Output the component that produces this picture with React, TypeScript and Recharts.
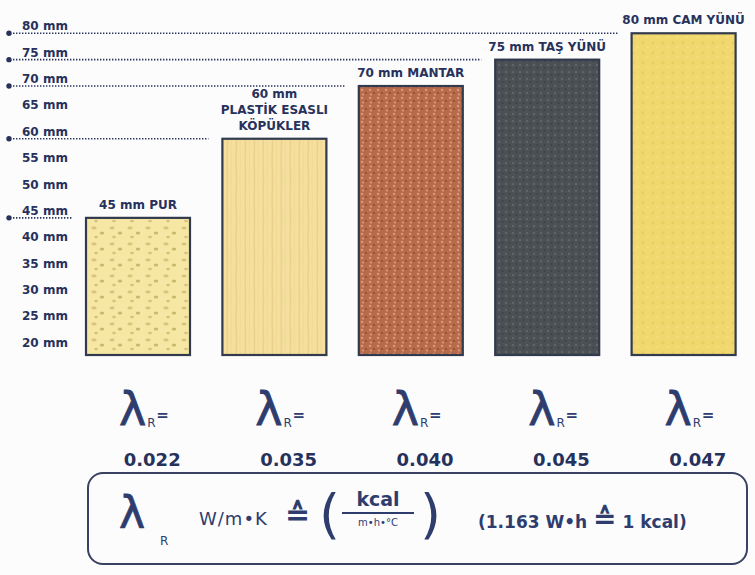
import { BarChart, Bar, XAxis, YAxis, Cell, LabelList } from 'recharts'

const materials = ['PUR', 'PLASTİK ESASLI KÖPÜKLER', 'MANTAR', 'TAŞ YÜNÜ', 'CAM YÜNÜ']
const thicknessMm = [45, 60, 70, 75, 80]
const lambdaR = ['0.022', '0.035', '0.040', '0.045', '0.047']
const barLabels = [
  ['45 mm PUR'],
  ['60 mm', 'PLASTİK ESASLI', 'KÖPÜKLER'],
  ['70 mm MANTAR'],
  ['75 mm TAŞ YÜNÜ'],
  ['80 mm CAM YÜNÜ'],
]
const yTicks = [20, 25, 30, 35, 40, 45, 50, 55, 60, 65, 70, 75, 80]

const data = materials.map((m, i) => ({ material: m, mm: thicknessMm[i], lambda: lambdaR[i], lines: barLabels[i] }))

const ink = '#27325c'
const font = '"DejaVu Sans", Verdana, sans-serif'

const MaterialBar = (props: any) => {
  const { x, y, width, height, index } = props
  return (
    <g>
      <line x1={13} x2={x - 14} y1={y} y2={y} stroke={ink} strokeWidth={1.7} strokeDasharray="1.4 1.6" />
      <circle cx={9} cy={y} r={2.7} fill={ink} />
      <rect x={x} y={y} width={width} height={height} fill={`url(#tex${index})`} stroke="#323a4e" strokeWidth={2.2} />
    </g>
  )
}

const BarTitle = (props: any) => {
  const { x, y, width, index } = props
  const lines = barLabels[index]
  return (
    <text x={x + width / 2} textAnchor="middle" fill={ink} fontFamily={font} fontWeight="bold" fontSize={12}>
      {lines.map((l, i) => (
        <tspan key={i} x={x + width / 2} y={y - 9 - (lines.length - 1 - i) * 16}>
          {l}
        </tspan>
      ))}
    </text>
  )
}

const MmTick = (props: any) => {
  const { y, payload } = props
  return (
    <text x={22} y={y} dy={-3} fill={ink} fontFamily={font} fontWeight="bold" fontSize={12}>
      {payload.value} mm
    </text>
  )
}

const LambdaTick = (props: any) => {
  const { x, y, index } = props
  const cx = x + 14
  return (
    <g fill="#2e3d6e" fontFamily={font}>
      <text x={cx - 6} y={y + 62} textAnchor="end" fontSize={46} stroke="#2e3d6e" strokeWidth={0.8}>λ</text>
      <text x={cx - 5} y={y + 64} fontSize={12}>R</text>
      <text x={cx + 4} y={y + 57} fontSize={15} fontWeight="bold">=</text>
      <text x={cx} y={y + 103} textAnchor="middle" fontSize={18} fontWeight="bold" fill={ink}>
        {lambdaR[index]}
      </text>
    </g>
  )
}

export default function App() {
  return (
    <div style={{ position: 'absolute', left: 0, top: 0, width: 755, height: 575, background: '#fcfcfd', fontFamily: font }}>
      <BarChart width={755} height={485} data={data} margin={{ top: 28, right: 3, bottom: 0, left: 0 }}>
        <defs>
          <pattern id="tex0" width="18" height="16" patternUnits="userSpaceOnUse">
            <rect width="18" height="16" fill="#f6e7a4" />
            <ellipse cx="4" cy="4" rx="2.6" ry="1.4" fill="#d9c47a" />
            <ellipse cx="12" cy="9" rx="2.2" ry="1.5" fill="#cdb76c" />
            <ellipse cx="6" cy="13" rx="1.8" ry="1.2" fill="#d6c07a" />
          </pattern>
          <pattern id="tex1" width="9" height="40" patternUnits="userSpaceOnUse">
            <rect width="9" height="40" fill="#f5df9e" />
            <path d="M2 0 Q3 20 2 40" stroke="#ead08a" strokeWidth="1.4" fill="none" />
            <path d="M6.5 0 Q5.5 20 6.5 40" stroke="#f0d996" strokeWidth="1" fill="none" />
          </pattern>
          <pattern id="tex2" width="8" height="8" patternUnits="userSpaceOnUse">
            <rect width="8" height="8" fill="#b86b4b" />
            <circle cx="2" cy="2" r="1.2" fill="#d99a78" />
            <circle cx="6" cy="5" r="1" fill="#96492f" />
            <circle cx="3" cy="6.5" r="0.9" fill="#dba385" />
          </pattern>
          <pattern id="tex3" width="7" height="7" patternUnits="userSpaceOnUse">
            <rect width="7" height="7" fill="#4b5054" />
            <circle cx="2" cy="2" r="1.2" fill="#5e6468" />
            <circle cx="5.5" cy="5" r="1" fill="#3c4044" />
          </pattern>
          <pattern id="tex4" width="10" height="10" patternUnits="userSpaceOnUse">
            <rect width="10" height="10" fill="#f0d86e" />
            <circle cx="3" cy="3" r="1.4" fill="#e8cd60" />
            <circle cx="7.5" cy="7" r="1.2" fill="#f4df80" />
          </pattern>
        </defs>
        <XAxis dataKey="material" height={130} axisLine={false} tickLine={false} interval={0} tick={<LambdaTick />} />
        <YAxis
          type="number"
          domain={[19, 81]}
          ticks={yTicks}
          width={70}
          axisLine={false}
          tickLine={false}
          tick={<MmTick />}
        />
        <Bar dataKey="mm" barSize={104} shape={<MaterialBar />} isAnimationActive={false}>
          {data.map((d) => (
            <Cell key={d.material} />
          ))}
          <LabelList dataKey="mm" content={<BarTitle />} />
        </Bar>
      </BarChart>

      <div
        style={{
          position: 'absolute',
          left: 87,
          top: 472,
          width: 657,
          height: 89,
          border: '2px solid #3a4264',
          borderRadius: 16,
          color: '#2e3d6e',
          background: '#fcfcfd',
        }}
      >
        <span style={{ position: 'absolute', left: 30, top: 14, fontSize: 44, lineHeight: '50px', WebkitTextStroke: '0.8px #2e3d6e' }}>λ</span>
        <span style={{ position: 'absolute', left: 71, top: 60, fontSize: 12, lineHeight: '14px' }}>R</span>
        <span
          style={{
            position: 'absolute',
            left: 110,
            top: 34,
            fontSize: 18,
            lineHeight: '22px',
            letterSpacing: 1,
            whiteSpace: 'nowrap',
          }}
        >
          W/m•K
        </span>
        <span style={{ position: 'absolute', left: 196, top: 24, fontSize: 30, lineHeight: '34px', fontWeight: 'bold' }}>≙</span>
        <span style={{ position: 'absolute', left: 230, top: 8, fontSize: 54, lineHeight: '66px' }}>(</span>
        <div style={{ position: 'absolute', left: 253, top: 15, width: 72, textAlign: 'center' }}>
          <div style={{ fontSize: 19, fontWeight: 'bold', lineHeight: '20px' }}>kcal</div>
          <div style={{ borderTop: '2px solid #2e3d6e', margin: '3px 0 2px' }} />
          <div style={{ fontSize: 10, lineHeight: '14px' }}>m•h•°C</div>
        </div>
        <span style={{ position: 'absolute', left: 331, top: 8, fontSize: 54, lineHeight: '66px' }}>)</span>
        <span
          style={{
            position: 'absolute',
            left: 389,
            top: 34,
            fontSize: 17,
            lineHeight: '22px',
            fontWeight: 'bold',
            whiteSpace: 'nowrap',
          }}
        >
          (1.163 W•h <span style={{ fontSize: 28, lineHeight: '22px' }}>≙</span> 1 kcal)
        </span>
      </div>
    </div>
  )
}
